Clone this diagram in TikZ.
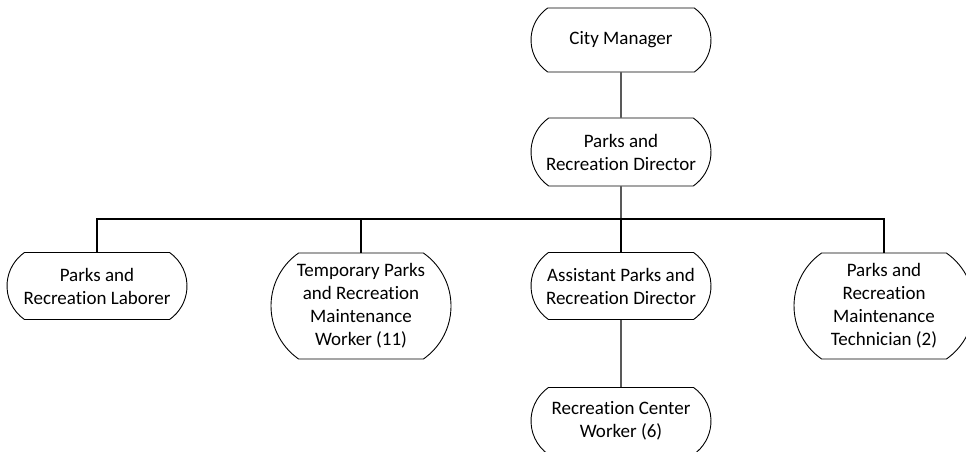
\documentclass[tikz,border=0pt]{standalone}
\usepackage{fontspec}
\setmainfont{Carlito}[Ligatures={NoCommon}]
\usetikzlibrary{shapes.misc}

\begin{document}
\begin{tikzpicture}[x=1pt,y=-1pt,line width=1.2pt,
  job/.style={draw,line width=0.9pt,rounded rectangle,rounded rectangle arc length=110,minimum width=180pt,minimum height=67pt,inner sep=0pt,align=center,font=\fontsize{19}{23}\selectfont},
  tall/.style={job,minimum height=106pt}]
  \useasboundingbox (0,0) rectangle (966,451);
  \path (621,40) node[job,minimum height=64pt] (cm) {City Manager}
  (621,152) node[job,minimum height=68pt] (dir) {Parks and\\Recreation Director}
  (97,286) node[job] (lab) {Parks and\\Recreation Laborer}
  (361,306) node[tall] (temp) {Temporary Parks\\and Recreation\\Maintenance\\Worker (11)}
  (621,286) node[job] (asst) {Assistant Parks and\\Recreation Director}
  (884,306) node[tall] (tech) {Parks and\\Recreation\\Maintenance\\Technician (2)}
  (621,421) node[job] (rcw) {Recreation Center\\Worker (6)};
  \coordinate (bus) at (621,219);
  \draw (cm) -- (dir);
  \draw (dir) -- (bus);
  \draw (lab.north) |- (bus) -| (tech.north);
  \draw (temp.north) -- (temp.north |- bus);
  \draw (asst.north) -- (asst.north |- bus);
  \draw (asst) -- (rcw);
\end{tikzpicture}
\end{document}
